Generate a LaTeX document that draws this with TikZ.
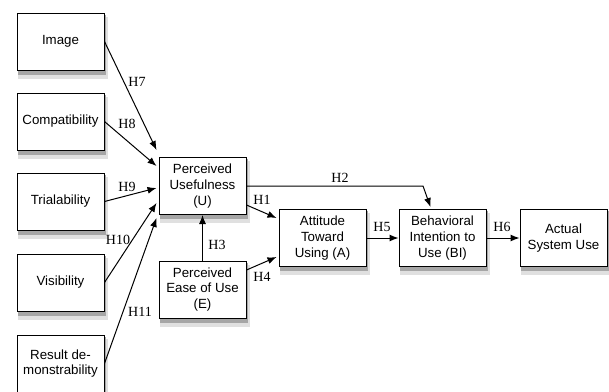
\documentclass[tikz,border=0pt]{standalone}
\usepackage{fontspec}
\setmainfont{Liberation Serif}
\newfontfamily\boxfont{Liberation Sans}
\usetikzlibrary{arrows.meta,calc}
\begin{document}
\begin{tikzpicture}[x=1pt,y=-1pt,
  box/.style={draw=black, line width=1pt, fill=white, minimum width=87pt, minimum height=57pt,
    inner sep=0pt, align=center, font=\boxfont\fontsize{13.3}{15.8}\selectfont},
  shadowfar/.style={fill=black!12, draw=none},
  shadownear/.style={fill=black!35, draw=none},
  arr/.style={-{Latex[length=9pt,width=7pt]}, line width=1pt},
  lab/.style={font=\fontsize{14}{16}\selectfont, inner sep=0pt}]
\useasboundingbox (0,0) rectangle (609,391);
% shadows (drawn first, under the boxes)
\foreach \cx/\cy in {60.5/41.5, 60.5/121.5, 60.5/201.5, 60.5/282.5, 60.5/363.5,
                     202.5/186, 202.5/289.5, 322.5/238, 442.5/238, 563.5/238}{
  \fill[shadowfar] (\cx-42.5,\cy-25) rectangle (\cx+47.5,\cy+37);
  \fill[shadownear] (\cx-43,\cy-27) rectangle (\cx+45.5,\cy+33);
}
% boxes
\node[box] (img) at (60.5,41.5) {Image};
\node[box] (comp) at (60.5,121.5) {Compatibility};
\node[box] (trial) at (60.5,201.5) {Trialability};
\node[box] (vis) at (60.5,282.5) {Visibility};
\node[box] (res) at (60.5,363.5) {Result de-\\monstrability};
\node[box] (pu) at (202.5,186) {Perceived\\Usefulness\\(U)};
\node[box] (pe) at (202.5,289.5) {Perceived\\Ease of Use\\(E)};
\node[box] (att) at (322.5,238) {Attitude\\Toward\\Using (A)};
\node[box] (bi) at (442.5,238) {Behavioral\\Intention to\\Use (BI)};
\node[box] (asu) at (563.5,238) {Actual\\System Use};
% connectors
\draw[arr] (img.east) -- ($(pu.north west)+(-2,-7)$);
\draw[arr] (comp.east) -- ($(pu.north west)+(-2,9)$);
\draw[arr] (trial.east) -- ($(pu.north west)+(-2,31)$);
\draw[arr] (vis.east) -- ($(pu.north west)+(-2,46)$);
\draw[arr] (res.east) -- ($(pu.north west)+(-2,61)$);
\draw[arr] (pe.north) -- (pu.south);
\draw[arr] ($(pu.east)+(0,19)$) -- ($(att.west)+(-2,-20)$);
\draw[arr] ($(pe.east)+(0,-19.5)$) -- ($(att.west)+(-2,19)$);
\coordinate (h2b) at (423,186);
\draw[arr] (pu.east) -- (h2b) -- ($(bi.north)+(-12,-2)$);
\draw[arr] (att.east) -- (bi.west);
\draw[arr] (bi.east) -- (asu.west);
% labels
\node[lab] (l7) at (137,82) {H7};
\node[lab] (l8) at (127,124) {H8};
\node[lab] (l9) at (127,187) {H9};
\node[lab] (l10) at (118,240) {H10};
\node[lab] (l11) at (140,312) {H11};
\node[lab] (l1) at (262,200) {H1};
\node[lab] (l2) at (340,178) {H2};
\node[lab] (l3) at (217,245) {H3};
\node[lab] (l4) at (262,277) {H4};
\node[lab] (l5) at (382,227) {H5};
\node[lab] (l6) at (502,227) {H6};
\end{tikzpicture}
\end{document}
